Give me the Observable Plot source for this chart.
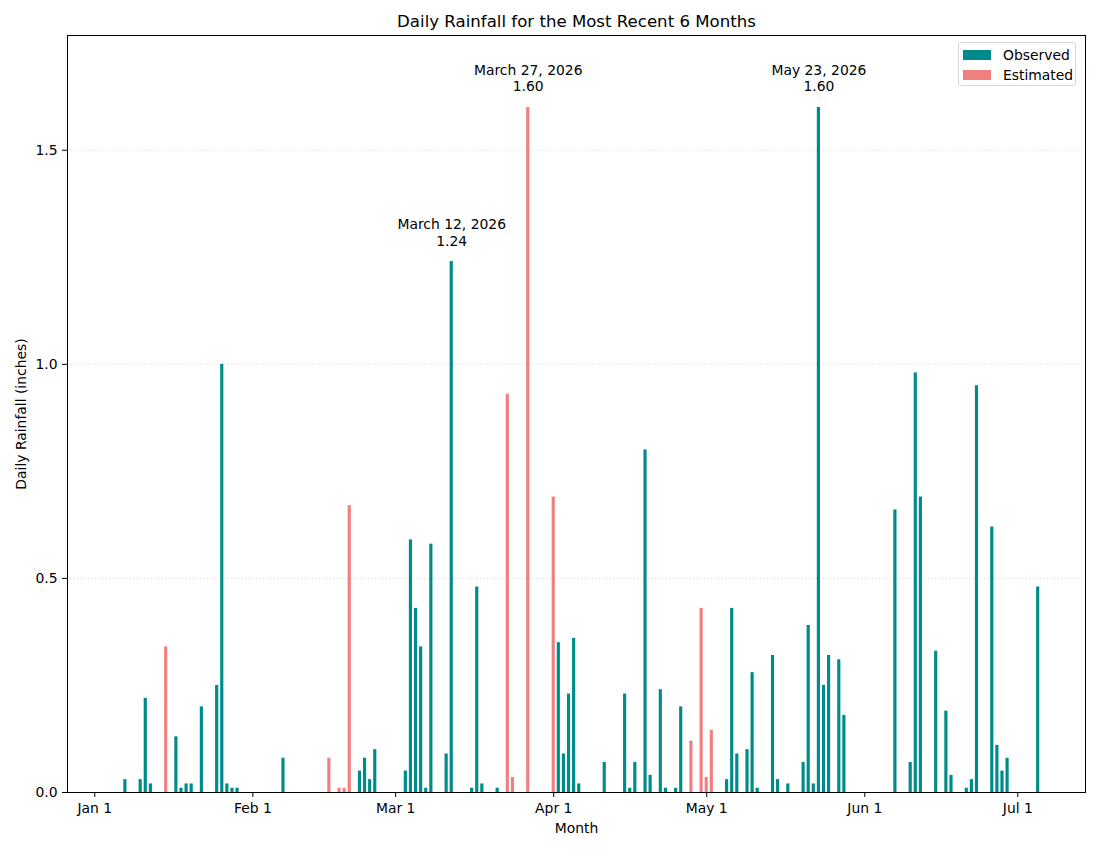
<!DOCTYPE html>
<html>
<head>
<meta charset="utf-8">
<script src="https://cdn.jsdelivr.net/npm/d3@7"></script>
<script src="https://cdn.jsdelivr.net/npm/@observablehq/plot@0.6"></script>
<style>
  html, body { margin: 0; padding: 0; background: #fff; }
  body { font-family: "DejaVu Sans", sans-serif; }
  #wrap { position: relative; width: 1100px; height: 850px; }
  #legend {
    position: absolute; left: 958px; top: 42px; width: 118px; height: 44px;
    border: 1px solid #d6d6d6; border-radius: 3px; background: rgba(255,255,255,0.85);
    font-size: 13.9px; color: #000; box-sizing: border-box;
  }
  #legend .item { position: absolute; left: 4px; height: 10px; display: flex; align-items: center; }
  #legend .sw { width: 28px; height: 10px; }
  #legend .lab { margin-left: 12px; line-height: 10px; white-space: nowrap; }
</style>
</head>
<body>
<div id="wrap"></div>
<script>
// ---- Data ----
const observedDates = [
  "2026-01-07","2026-01-10","2026-01-11","2026-01-12","2026-01-17","2026-01-18","2026-01-19","2026-01-20",
  "2026-01-22","2026-01-25","2026-01-26","2026-01-27","2026-01-28","2026-01-29","2026-02-07","2026-02-22",
  "2026-02-23","2026-02-24","2026-02-25","2026-03-03","2026-03-04","2026-03-05","2026-03-06","2026-03-07",
  "2026-03-08","2026-03-11","2026-03-12","2026-03-16","2026-03-17","2026-03-18","2026-03-21","2026-04-02",
  "2026-04-03","2026-04-04","2026-04-05","2026-04-06","2026-04-11","2026-04-15","2026-04-16","2026-04-17",
  "2026-04-19","2026-04-20","2026-04-22","2026-04-23","2026-04-25","2026-04-26","2026-05-05","2026-05-06",
  "2026-05-07","2026-05-09","2026-05-10","2026-05-11","2026-05-14","2026-05-15","2026-05-17","2026-05-20",
  "2026-05-21","2026-05-22","2026-05-23","2026-05-24","2026-05-25","2026-05-27","2026-05-28","2026-06-07",
  "2026-06-10","2026-06-11","2026-06-12","2026-06-15","2026-06-17","2026-06-18","2026-06-21","2026-06-22",
  "2026-06-23","2026-06-26","2026-06-27","2026-06-28","2026-06-29","2026-07-05"
];
const observedValues = [
  0.03,0.03,0.22,0.02,0.13,0.01,0.02,0.02,
  0.20,0.25,1.00,0.02,0.01,0.01,0.08,0.05,
  0.08,0.03,0.10,0.05,0.59,0.43,0.34,0.01,
  0.58,0.09,1.24,0.01,0.48,0.02,0.01,0.35,
  0.09,0.23,0.36,0.02,0.07,0.23,0.01,0.07,
  0.80,0.04,0.24,0.01,0.01,0.20,0.03,0.43,
  0.09,0.10,0.28,0.01,0.32,0.03,0.02,0.07,
  0.39,0.02,1.60,0.25,0.32,0.31,0.18,0.66,
  0.07,0.98,0.69,0.33,0.19,0.04,0.01,0.03,
  0.95,0.62,0.11,0.05,0.08,0.48
];
const estimatedDates = [
  "2026-01-15","2026-02-16","2026-02-18","2026-02-19","2026-02-20","2026-03-23","2026-03-24",
  "2026-03-27","2026-04-01","2026-04-28","2026-04-30","2026-05-01","2026-05-02"
];
const estimatedValues = [0.34,0.08,0.01,0.01,0.67,0.93,0.035,1.60,0.69,0.12,0.43,0.035,0.145];

const seriesNames = ["Observed", "Estimated"];
const seriesColors = ["#008b8b", "#f08080"];
const monthTickDates = ["2026-01-01","2026-02-01","2026-03-01","2026-04-01","2026-05-01","2026-06-01","2026-07-01"];
const yTickValues = [0, 0.5, 1.0, 1.5];
const titleText = "Daily Rainfall for the Most Recent 6 Months";
const xLabel = "Month";
const yLabel = "Daily Rainfall (inches)";

// ---- Build table ----
const DAY = 864e5;
const table = [
  ...observedDates.map((d, i) => ({date: new Date(d + "T00:00:00Z"), value: observedValues[i], status: seriesNames[0]})),
  ...estimatedDates.map((d, i) => ({date: new Date(d + "T00:00:00Z"), value: estimatedValues[i], status: seriesNames[1]}))
];
const annotations = [...table].sort((a, b) => b.value - a.value).slice(0, 3);
const fmtLong = d3.utcFormat("%B %-d, %Y");
const half = 0.31 * DAY;
const jan1 = Date.UTC(2026, 0, 1);
const xDomain = [new Date(jan1 - 5.35 * DAY), new Date(jan1 + 194.28 * DAY)];

const chart = Plot.plot({
  width: 1100,
  height: 850,
  marginTop: 35,
  marginBottom: 58,
  marginLeft: 67,
  marginRight: 15,
  style: {fontFamily: "DejaVu Sans, sans-serif", fontSize: "13.9px", color: "#000", background: "#fff", overflow: "visible"},
  x: {type: "utc", domain: xDomain},
  y: {domain: [0, 1.768]},
  color: {domain: seriesNames, range: seriesColors},
  marks: [
    Plot.ruleY(yTickValues.filter(v => v > 0), {stroke: "#c8c8c8", strokeWidth: 0.8, strokeDasharray: "1,2.5"}),
    Plot.rectY(table, {
      x1: d => new Date(+d.date - half),
      x2: d => new Date(+d.date + half),
      y1: 0,
      y2: "value",
      fill: "status"
    }),
    Plot.frame({stroke: "#000", strokeWidth: 1}),
    Plot.axisX({ticks: monthTickDates.map(d => new Date(d + "T00:00:00Z")), tickFormat: d3.utcFormat("%b %-d"), tickSize: 5, tickPadding: 6, label: null, fontSize: 13.9}),
    Plot.axisY({ticks: yTickValues, tickFormat: d3.format(".1f"), tickSize: 5, tickPadding: 5, label: null, fontSize: 13.9}),
    Plot.text(annotations, {
      x: "date", y: "value",
      text: d => fmtLong(d.date) + "\n" + d.value.toFixed(2),
      lineAnchor: "bottom", lineHeight: 1.2, dy: -16, fontSize: 13.9, fill: "#000"
    }),
    Plot.text([titleText], {frameAnchor: "top", dy: -20, fontSize: 16.6, fill: "#000"}),
    Plot.text([xLabel], {frameAnchor: "bottom", dy: 40, fontSize: 13.9, fill: "#000"}),
    Plot.text([yLabel], {frameAnchor: "left", rotate: -90, dx: -46, textAnchor: "middle", fontSize: 13.9, fill: "#000"})
  ]
});

const wrap = document.getElementById("wrap");
wrap.appendChild(chart);

// Legend (HTML overlay)
const legend = document.createElement("div");
legend.id = "legend";
seriesNames.forEach((name, i) => {
  const item = document.createElement("div");
  item.className = "item";
  item.style.top = (7 + i * 20) + "px";
  const sw = document.createElement("div");
  sw.className = "sw";
  sw.style.background = seriesColors[i];
  const lab = document.createElement("span");
  lab.className = "lab";
  lab.textContent = name;
  item.appendChild(sw);
  item.appendChild(lab);
  legend.appendChild(item);
});
wrap.appendChild(legend);
</script>
</body>
</html>
